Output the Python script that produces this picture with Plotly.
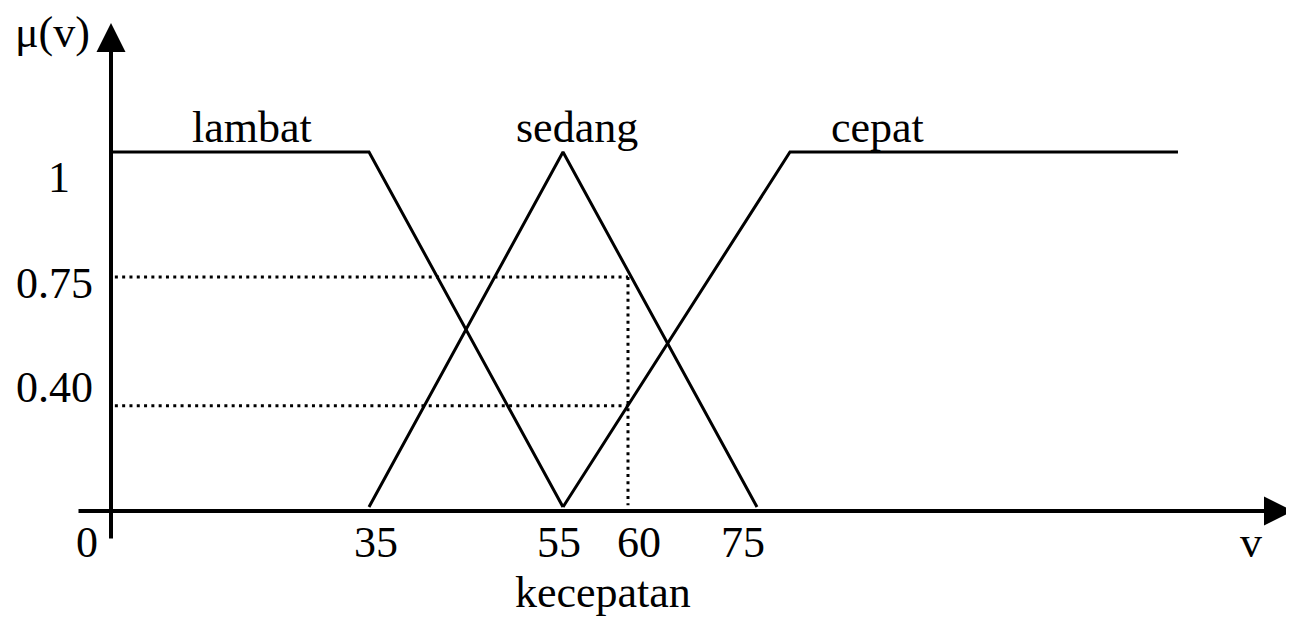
import plotly.graph_objects as go

# the page puts the figure 8px in from the top-left corner
OFF = 8
W, H = 1294 - OFF, 619 - OFF

# membership functions as drawn (v on the horizontal, mu on the vertical)
set_names = ["lambat", "sedang", "cepat"]
lambat_v = [8.4, 35, 55]
lambat_mu = [1, 1, 0]
sedang_v = [35, 55, 75]
sedang_mu = [0, 1, 0]
cepat_v = [55, 78.4, 118.4]
cepat_mu = [0, 1, 1]

# input speed and the membership degrees marked with the dotted lines,
# at the heights they are drawn in the figure
v_cut = 61.7
cut_levels = [0.648, 0.285]

x_tick_labels = ["0", "35", "55", "60", "75"]
y_tick_labels = ["1", "0.75", "0.40"]
x_title = "kecepatan"
x_name = "v"
y_name = "\u03bc(v)"

FONT = dict(family="Liberation Serif, Times New Roman, serif", size=44, color="black")

fig = go.Figure()
for v, mu, name in zip([lambat_v, sedang_v, cepat_v], [lambat_mu, sedang_mu, cepat_mu], set_names):
    fig.add_trace(go.Scatter(x=v, y=mu, mode="lines", name=name,
                             line=dict(color="black", width=3)))

dotted = dict(color="black", width=3, dash="3px,4.3px")
for level in cut_levels:
    fig.add_trace(go.Scatter(x=[lambat_v[0] + 0.4, v_cut], y=[level, level], mode="lines",
                             line=dotted, showlegend=False))
fig.add_trace(go.Scatter(x=[v_cut, v_cut], y=[max(cut_levels), 0.005], mode="lines",
                         line=dotted, showlegend=False))


def px(x):
    return (x - OFF) / W


def py(y):
    return 1 - (y - OFF) / H


annotations = []
# axes with arrow heads
annotations.append(dict(xref="paper", yref="paper", x=px(111), y=py(23), ax=0, ay=517,
                        text="", showarrow=True, arrowhead=2, arrowwidth=4,
                        arrowsize=1.45, arrowcolor="black"))
annotations.append(dict(xref="paper", yref="paper", x=px(1294), y=py(511), ax=-1217, ay=0,
                        text="", showarrow=True, arrowhead=2, arrowwidth=4,
                        arrowsize=1.45, arrowcolor="black"))

label_pos = (
    list(zip(x_tick_labels, [87, 376, 559, 639, 743], [542] * 5))
    + list(zip(y_tick_labels, [59, 54, 54], [178, 283, 387]))
    + list(zip(set_names, [252, 577, 877], [128, 128, 128]))
    + [(y_name, 52, 32), (x_name, 1251, 542), (x_title, 603, 592)]
)
for text, x, y in label_pos:
    annotations.append(dict(xref="paper", yref="paper", x=px(x), y=py(y), text=text,
                            showarrow=False, xanchor="center", yanchor="middle", font=FONT))

fig.update_layout(
    width=W, height=H,
    margin=dict(l=0, r=0, t=0, b=0),
    paper_bgcolor="white",
    plot_bgcolor="white",
    showlegend=False,
    xaxis=dict(range=[35 - 361 / 9.7, 35 + 925 / 9.7], visible=False),
    yaxis=dict(range=[-112 / 355, 499 / 355], visible=False),
    annotations=annotations,
)

fig.write_html("out.html")
